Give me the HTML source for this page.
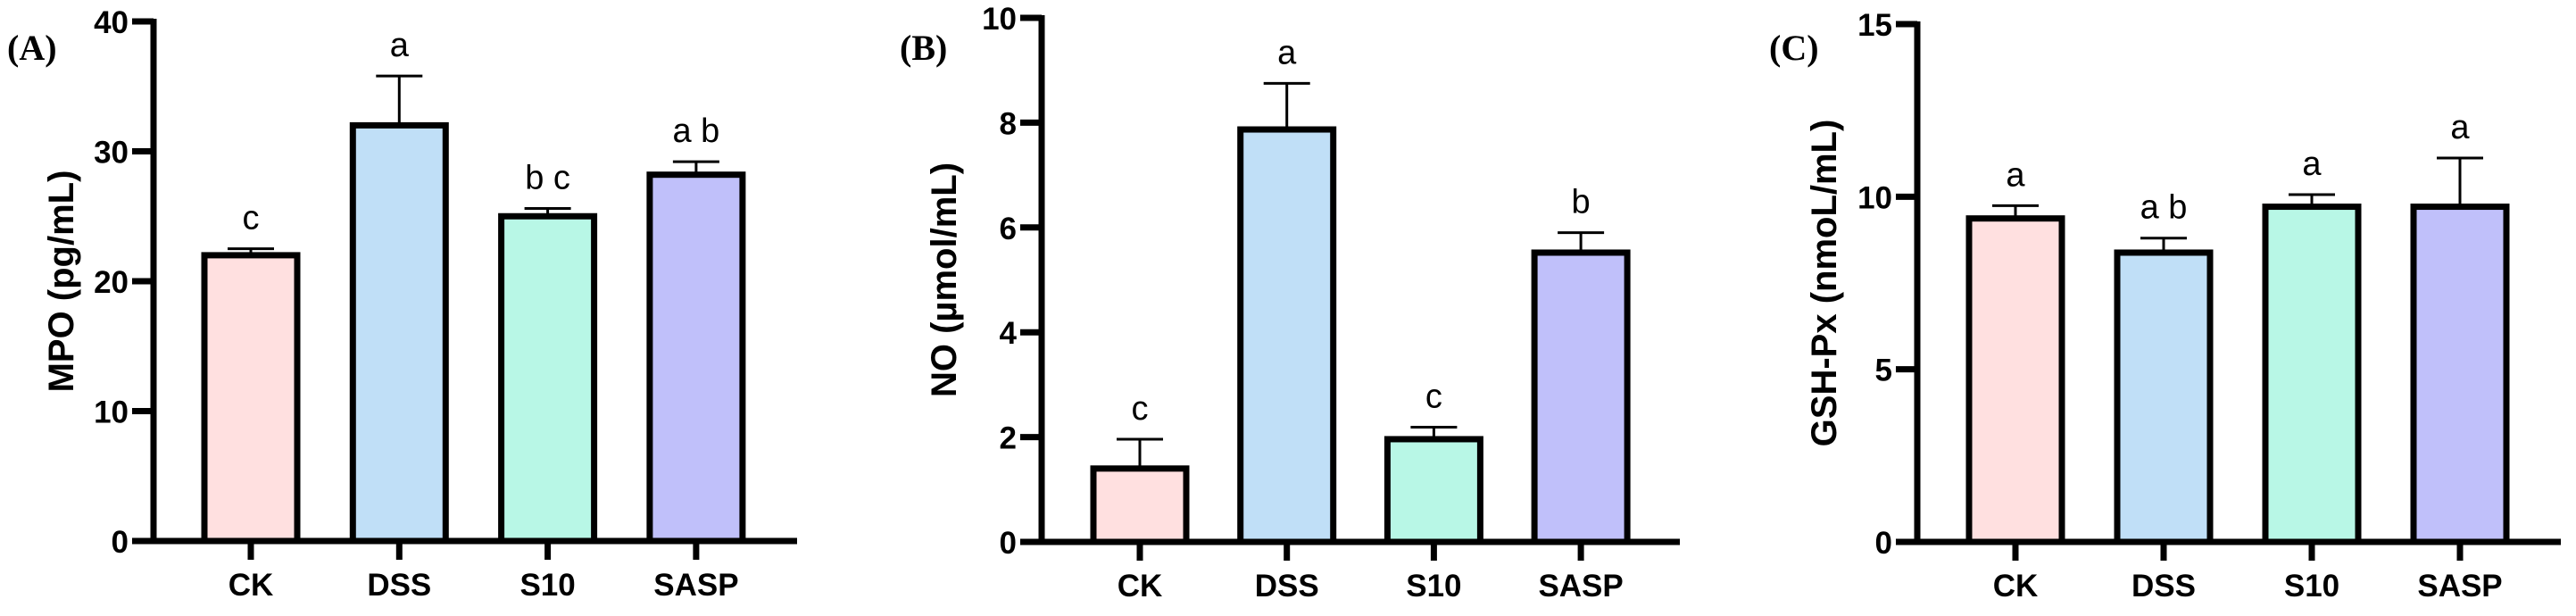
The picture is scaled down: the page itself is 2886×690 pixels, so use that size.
<!DOCTYPE html>
<html><head><meta charset="utf-8"><style>
html,body{margin:0;padding:0;background:#fff;}
svg{display:block;}
text{font-family:"Liberation Sans",Arial,sans-serif;}
</style></head><body>
<svg id="chart" width="2886" height="690" viewBox="0 0 2886 690" xmlns="http://www.w3.org/2000/svg"></svg>
<script>
const categories = ["CK","DSS","S10","SASP"];
const barColors = ["#ffe0e0","#c0dff7","#b8f7e6","#c0c0fa"];
const mpoValues = [22.0, 32.0, 25.0, 28.2];
const mpoErrors = [0.5, 3.8, 0.6, 1.0];
const mpoLetters = ["c","a","b c","a b"];
const mpoTicks = [0,10,20,30,40];
const noValues = [1.40, 7.87, 1.96, 5.52];
const noErrors = [0.56, 0.88, 0.23, 0.38];
const noLetters = ["c","a","c","b"];
const noTicks = [0,2,4,6,8,10];
const gshValues = [9.37, 8.38, 9.71, 9.71];
const gshErrors = [0.37, 0.42, 0.35, 1.41];
const gshLetters = ["a","a b","a","a"];
const gshTicks = [0,5,10,15];

const panels = [
  {key:"a", tag:"(A)", title:"MPO (pg/mL)", values:mpoValues, errors:mpoErrors, letters:mpoLetters, ticks:mpoTicks,
   ax:172, axEnd:893, top:24, zero:606, c0:281, step:166.3, tagX:8, titleX:68},
  {key:"b", tag:"(B)", title:"NO (µmol/mL)", values:noValues, errors:noErrors, letters:noLetters, ticks:noTicks,
   ax:1167, axEnd:1882, top:20, zero:607, c0:1277, step:164.7, tagX:1008, titleX:1057},
  {key:"c", tag:"(C)", title:"GSH-Px (nmoL/mL)", values:gshValues, errors:gshErrors, letters:gshLetters, ticks:gshTicks,
   ax:2148, axEnd:2869, top:27, zero:607, c0:2258, step:166, tagX:1982, titleX:2043}
];

const NS = "http://www.w3.org/2000/svg";
const svg = document.getElementById("chart");
function mk(tag, attrs, parent){
  const e = document.createElementNS(NS, tag);
  for (const k in attrs) e.setAttribute(k, attrs[k]);
  (parent||svg).appendChild(e);
  return e;
}

panels.forEach(p => {
  const g = mk("g", {});
  
  
  const maxV = p.ticks[p.ticks.length-1];
  const y = v => p.zero - (v / maxV) * (p.zero - p.top);
  const x = i => p.c0 + i * p.step;
  const barW = 104;

  // bars
  p.values.forEach((v, i) => {
    const bx = x(i) - barW/2;
    const eTop = y(v + p.errors[i]);
    const err = mk("line", {x1:x(i), x2:x(i), y1:y(v), y2:eTop, stroke:"#000","stroke-width":3}, g);
    
    
    const cap = mk("line", {x1:x(i)-26, x2:x(i)+26, y1:eTop, y2:eTop, stroke:"#000","stroke-width":3}, g);
    
    
    const r = mk("rect", {x:bx, y:y(v), width:barW, height:p.zero - y(v), fill:barColors[i], stroke:"#000","stroke-width":7}, g);
    
    
    const t = mk("text", {x:x(i), y:eTop - 22, "font-size":38, "text-anchor":"middle", fill:"#000"}, g);
    t.textContent = p.letters[i];
    
    
    const tk = mk("line", {x1:x(i), x2:x(i), y1:p.zero, y2:p.zero+21, stroke:"#000","stroke-width":7}, g);
    
    
    const cl = mk("text", {x:x(i), y:p.zero+61, "font-size":35, "font-weight":"bold", "text-anchor":"middle", fill:"#000"}, g);
    cl.textContent = categories[i];
    
    
  });

  // axes
  const ya = mk("line", {x1:p.ax, x2:p.ax, y1:p.top-3, y2:p.zero+3, stroke:"#000","stroke-width":7}, g);
  
  
  const xa = mk("line", {x1:p.ax-24, x2:p.axEnd, y1:p.zero, y2:p.zero, stroke:"#000","stroke-width":7}, g);
  
  

  p.ticks.forEach(tv => {
    const ty = y(tv);
    const tl = mk("line", {x1:p.ax-24, x2:p.ax, y1:ty, y2:ty, stroke:"#000","stroke-width":7}, g);
    
    
    const tt = mk("text", {x:p.ax-28, y:ty+13, "font-size":35, "font-weight":"bold", "text-anchor":"end", fill:"#000"}, g);
    tt.textContent = tv;
    
    
  });

  const midY = (p.top + p.zero) / 2;
  const ti = mk("text", {x:p.titleX, y:midY, "font-size":40, "font-weight":"bold", "text-anchor":"middle", fill:"#000",
    transform:"rotate(-90 " + p.titleX + " " + midY + ")", dy:"14"}, g);
  ti.textContent = p.title;
  
  

  const tg = mk("text", {x:p.tagX, y:67, "font-size":40, "font-weight":"bold", fill:"#000",
    style:'font-family:"Liberation Serif",serif'}, g);
  tg.textContent = p.tag;
  
  
});
</script>
</body></html>
